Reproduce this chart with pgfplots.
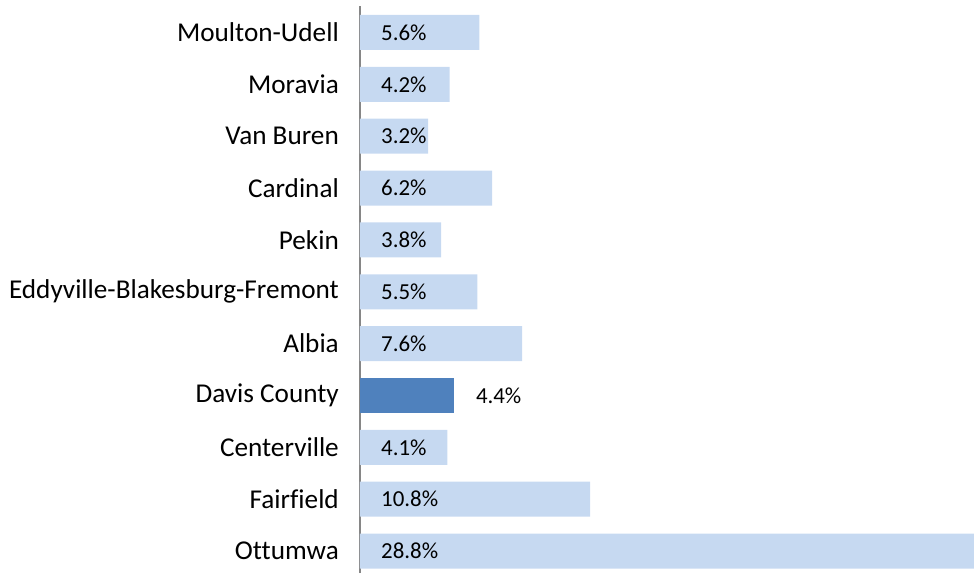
\documentclass[border=0pt]{standalone}
\usepackage{pgfplots}
\pgfplotsset{compat=1.18}
\usepackage{fontspec}
\setmainfont[Ligatures=NoCommon]{Carlito}
\definecolor{lightbar}{HTML}{C6D9F1}
\definecolor{darkbar}{HTML}{4F81BD}
\definecolor{axgray}{HTML}{868686}
\begin{document}
\begin{tikzpicture}
\path[use as bounding box] (-360pt,0pt) rectangle (614pt,573pt);
\begin{axis}[
  scale only axis, width=614pt, height=567pt,
  at={(0pt,0pt)}, anchor=south west,
  xmin=0, xmax=28.8, ymin=-0.424, ymax=10.511,
  axis x line=none, axis y line*=left,
  y axis line style={draw=axgray, line width=2.2pt},
  ytick={0,...,10},
  yticklabels={Ottumwa, Fairfield, Centerville, Davis County, Albia, Eddyville-Blakesburg-Fremont, Pekin, Cardinal, Van Buren, Moravia, Moulton-Udell},
  major tick length=0pt,
  yticklabel style={font=\fontsize{27.2}{32}\selectfont, text=black, anchor=east, inner sep=0pt, xshift=-21pt},
  clip=false,
]
\addplot[xbar, bar width=35pt, bar shift=0pt, fill=lightbar, draw=none]
  coordinates {(28.8,0) (10.8,1) (4.1,2) (7.6,4) (5.5,5) (3.8,6) (6.2,7) (3.2,8) (4.2,9) (5.6,10)};
\addplot[xbar, bar width=35pt, bar shift=0pt, fill=darkbar, draw=none]
  coordinates {(4.4,3)};
\addplot[draw=none, mark=none, point meta=explicit symbolic,
  nodes near coords, nodes near coords style={anchor=west, inner sep=0pt, xshift=21pt, font=\fontsize{22.9}{27}\selectfont, text=black}]
  coordinates {(0,0) [28.8\%] (0,1) [10.8\%] (0,2) [4.1\%] (0,4) [7.6\%] (0,5) [5.5\%] (0,6) [3.8\%] (0,7) [6.2\%] (0,8) [3.2\%] (0,9) [4.2\%] (0,10) [5.6\%]};
\addplot[draw=none, mark=none, point meta=explicit symbolic,
  nodes near coords, nodes near coords style={anchor=west, inner sep=0pt, xshift=22pt, font=\fontsize{22.9}{27}\selectfont, text=black}]
  coordinates {(4.4,3) [4.4\%]};
\end{axis}
\end{tikzpicture}
\end{document}
